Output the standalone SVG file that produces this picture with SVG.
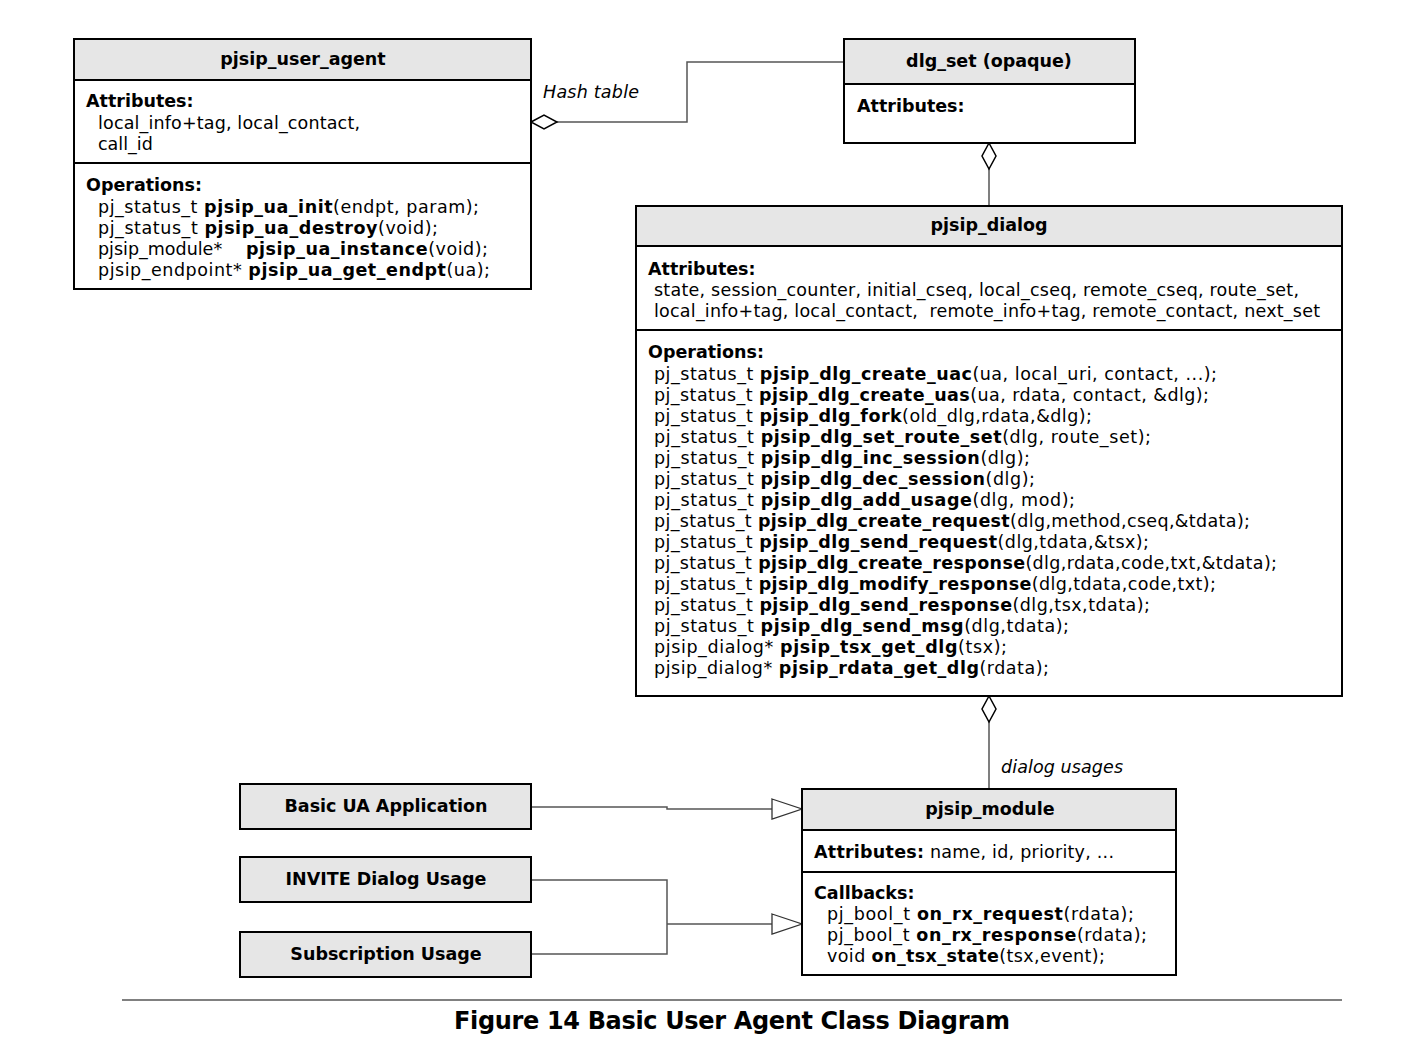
<svg xmlns="http://www.w3.org/2000/svg" width="1418" height="1058" viewBox="0 0 1418 1058">
<style>
.box{fill:#fff;stroke:#000;stroke-width:2}
.hdr{fill:#e6e6e6;stroke:#000;stroke-width:2}
.div{stroke:#000;stroke-width:2}
.v{font-family:"DejaVu Sans",Verdana,sans-serif;font-size:17.5px;fill:#000}
.b{font-weight:bold}
.i{font-style:italic}
.c{text-anchor:middle}
.conn{stroke:#555;stroke-width:1.5;fill:none}
</style>
<defs>
<marker id="dia" markerUnits="userSpaceOnUse" markerWidth="30" markerHeight="20" viewBox="-2 -9 30 18" refX="0" refY="0" orient="auto">
<polygon points="0,0 13,-7 26,0 13,7" fill="#fff" stroke="#000" stroke-width="1.5"/>
</marker>
<marker id="tri" markerUnits="userSpaceOnUse" markerWidth="34" markerHeight="26" viewBox="-2 -12 34 24" refX="30" refY="0" orient="auto">
<polygon points="0,-10 30,0 0,10" fill="#fff" stroke="#333" stroke-width="1.3"/>
</marker>
</defs>

<g id="connectors">
<path class="conn" d="M531,122 H687 V62 H844" marker-start="url(#dia)"/>
<text class="v i" x="543" y="98" textLength="96" lengthAdjust="spacing">Hash table</text>
<path class="conn" d="M989,143 V206" marker-start="url(#dia)"/>
<path class="conn" d="M989,696 V789" marker-start="url(#dia)"/>
<text class="v i" x="1001" y="773" textLength="122" lengthAdjust="spacing">dialog usages</text>
<path class="conn" d="M531,807 H667 V809 H802" marker-end="url(#tri)"/>
<path class="conn" d="M531,880 H667 V954 H531"/>
<path class="conn" d="M667,924 H802" marker-end="url(#tri)"/>
</g>

<g id="pjsip_user_agent">
<rect class="box" x="74" y="39" width="457" height="250"/>
<rect class="hdr" x="74" y="39" width="457" height="41"/>
<line class="div" x1="74" y1="163" x2="531" y2="163"/>
<text class="v b c" x="303" y="65">pjsip_user_agent</text>
<text class="v b" x="86" y="107">Attributes:</text>
<text class="v" x="98" y="129" textLength="262" lengthAdjust="spacing">local_info+tag, local_contact,</text>
<text class="v" x="98" y="150">call_id</text>
<text class="v b" x="86" y="191">Operations:</text>
<text class="v" x="98" y="213" textLength="381" lengthAdjust="spacing">pj_status_t <tspan class="b">pjsip_ua_init</tspan>(endpt, param);</text>
<text class="v" x="98" y="234" textLength="340" lengthAdjust="spacing">pj_status_t <tspan class="b">pjsip_ua_destroy</tspan>(void);</text>
<text class="v" x="98" y="255">pjsip_module*</text>
<text class="v" x="246" y="255" textLength="242" lengthAdjust="spacing"><tspan class="b">pjsip_ua_instance</tspan>(void);</text>
<text class="v" x="98" y="276" textLength="392" lengthAdjust="spacing">pjsip_endpoint* <tspan class="b">pjsip_ua_get_endpt</tspan>(ua);</text>
</g>

<g id="dlg_set">
<rect class="box" x="844" y="39" width="291" height="104"/>
<rect class="hdr" x="844" y="39" width="291" height="45"/>
<text class="v b c" x="989" y="67">dlg_set (opaque)</text>
<text class="v b" x="857" y="112">Attributes:</text>
</g>

<g id="pjsip_dialog">
<rect class="box" x="636" y="206" width="706" height="490"/>
<rect class="hdr" x="636" y="206" width="706" height="40"/>
<line class="div" x1="636" y1="330" x2="1342" y2="330"/>
<text class="v b c" x="989" y="231">pjsip_dialog</text>
<text class="v b" x="648" y="275">Attributes:</text>
<text class="v" x="654" y="296" textLength="645" lengthAdjust="spacing">state, session_counter, initial_cseq, local_cseq, remote_cseq, route_set,</text>
<text class="v" x="654" y="317" textLength="666" lengthAdjust="spacing" xml:space="preserve">local_info+tag, local_contact,  remote_info+tag, remote_contact, next_set</text>
<text class="v b" x="648" y="358">Operations:</text>
<text class="v" x="654" y="380" textLength="563" lengthAdjust="spacing">pj_status_t <tspan class="b">pjsip_dlg_create_uac</tspan>(ua, local_uri, contact, ...);</text>
<text class="v" x="654" y="401" textLength="555" lengthAdjust="spacing">pj_status_t <tspan class="b">pjsip_dlg_create_uas</tspan>(ua, rdata, contact, &amp;dlg);</text>
<text class="v" x="654" y="422" textLength="438" lengthAdjust="spacing">pj_status_t <tspan class="b">pjsip_dlg_fork</tspan>(old_dlg,rdata,&amp;dlg);</text>
<text class="v" x="654" y="443" textLength="497" lengthAdjust="spacing">pj_status_t <tspan class="b">pjsip_dlg_set_route_set</tspan>(dlg, route_set);</text>
<text class="v" x="654" y="464" textLength="376" lengthAdjust="spacing">pj_status_t <tspan class="b">pjsip_dlg_inc_session</tspan>(dlg);</text>
<text class="v" x="654" y="485" textLength="381" lengthAdjust="spacing">pj_status_t <tspan class="b">pjsip_dlg_dec_session</tspan>(dlg);</text>
<text class="v" x="654" y="506" textLength="421" lengthAdjust="spacing">pj_status_t <tspan class="b">pjsip_dlg_add_usage</tspan>(dlg, mod);</text>
<text class="v" x="654" y="527" textLength="596" lengthAdjust="spacing">pj_status_t <tspan class="b">pjsip_dlg_create_request</tspan>(dlg,method,cseq,&amp;tdata);</text>
<text class="v" x="654" y="548" textLength="495" lengthAdjust="spacing">pj_status_t <tspan class="b">pjsip_dlg_send_request</tspan>(dlg,tdata,&amp;tsx);</text>
<text class="v" x="654" y="569" textLength="623" lengthAdjust="spacing">pj_status_t <tspan class="b">pjsip_dlg_create_response</tspan>(dlg,rdata,code,txt,&amp;tdata);</text>
<text class="v" x="654" y="590" textLength="562" lengthAdjust="spacing">pj_status_t <tspan class="b">pjsip_dlg_modify_response</tspan>(dlg,tdata,code,txt);</text>
<text class="v" x="654" y="611" textLength="496" lengthAdjust="spacing">pj_status_t <tspan class="b">pjsip_dlg_send_response</tspan>(dlg,tsx,tdata);</text>
<text class="v" x="654" y="632" textLength="415" lengthAdjust="spacing">pj_status_t <tspan class="b">pjsip_dlg_send_msg</tspan>(dlg,tdata);</text>
<text class="v" x="654" y="653" textLength="353" lengthAdjust="spacing">pjsip_dialog* <tspan class="b">pjsip_tsx_get_dlg</tspan>(tsx);</text>
<text class="v" x="654" y="674" textLength="395" lengthAdjust="spacing">pjsip_dialog* <tspan class="b">pjsip_rdata_get_dlg</tspan>(rdata);</text>
</g>

<g id="pjsip_module">
<rect class="box" x="802" y="789" width="374" height="186"/>
<rect class="hdr" x="802" y="789" width="374" height="41"/>
<line class="div" x1="802" y1="872" x2="1176" y2="872"/>
<text class="v b c" x="990" y="815">pjsip_module</text>
<text class="v" x="814" y="858" textLength="300" lengthAdjust="spacing"><tspan class="b">Attributes:</tspan> name, id, priority, ...</text>
<text class="v b" x="814" y="899">Callbacks:</text>
<text class="v" x="827" y="920" textLength="307" lengthAdjust="spacing">pj_bool_t <tspan class="b">on_rx_request</tspan>(rdata);</text>
<text class="v" x="827" y="941" textLength="320" lengthAdjust="spacing">pj_bool_t <tspan class="b">on_rx_response</tspan>(rdata);</text>
<text class="v" x="827" y="962" textLength="278" lengthAdjust="spacing">void <tspan class="b">on_tsx_state</tspan>(tsx,event);</text>
</g>

<g id="basic_ua_application">
<rect class="hdr" x="240" y="784" width="291" height="45"/>
<text class="v b c" x="386" y="812">Basic UA Application</text>
</g>
<g id="invite_dialog_usage">
<rect class="hdr" x="240" y="857" width="291" height="45"/>
<text class="v b c" x="386" y="885">INVITE Dialog Usage</text>
</g>
<g id="subscription_usage">
<rect class="hdr" x="240" y="932" width="291" height="45"/>
<text class="v b c" x="386" y="960">Subscription Usage</text>
</g>

<g id="caption">
<line x1="122" y1="1000" x2="1342" y2="1000" stroke="#808080" stroke-width="2"/>
<text class="v b" x="454" y="1029" style="font-size:24px" textLength="556" lengthAdjust="spacing">Figure 14 Basic User Agent Class Diagram</text>
</g>
</svg>
